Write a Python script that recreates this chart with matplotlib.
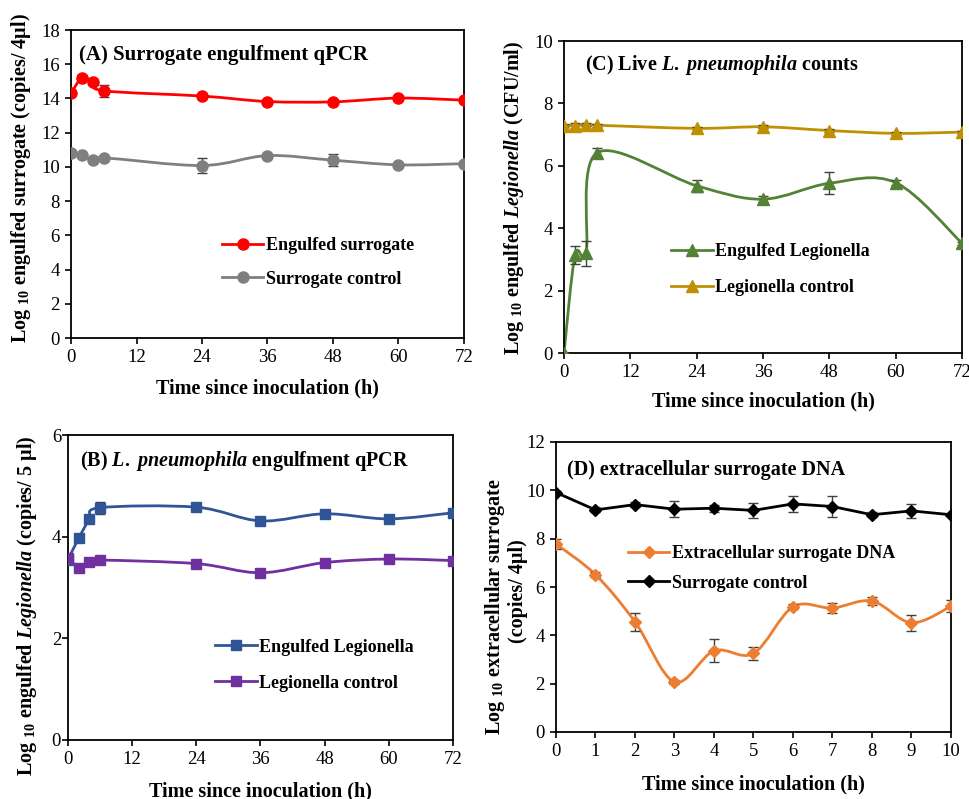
import numpy as np
import matplotlib
matplotlib.use("Agg")
import matplotlib.pyplot as plt
from matplotlib.path import Path
from matplotlib.patches import PathPatch
from matplotlib.lines import Line2D

plt.rcParams["font.family"] = ["Liberation Serif", "DejaVu Serif"]
plt.rcParams["mathtext.fontset"] = "custom"
plt.rcParams["mathtext.rm"] = "Liberation Serif:weight=bold"
plt.rcParams["mathtext.bf"] = "Liberation Serif:weight=bold"
plt.rcParams["mathtext.it"] = "Liberation Serif:style=italic:weight=bold"

# ---- data ----
hours = [0, 2, 4, 6, 24, 36, 48, 60, 72]
hours_d = [0, 1, 2, 3, 4, 5, 6, 7, 8, 9, 10]

# (A) surrogate engulfment qPCR
engulfed_surrogate = [14.3, 15.2, 14.98, 14.45, 14.14, 13.82, 13.8, 14.02, 13.9]
engulfed_surrogate_err = [0.1, 0.15, 0.1, 0.35, 0.1, 0.1, 0.1, 0.1, 0.1]
surrogate_ctrl_a = [10.84, 10.72, 10.39, 10.53, 10.08, 10.66, 10.39, 10.12, 10.19]
surrogate_ctrl_a_err = [0.1, 0.1, 0.1, 0.1, 0.45, 0.1, 0.35, 0.1, 0.1]

# (B) L. pneumophila engulfment qPCR
engulfed_leg_b = [3.55, 3.97, 4.34, 4.57, 4.58, 4.31, 4.45, 4.35, 4.47]
engulfed_leg_b_err = [0.03, 0.05, 0.05, 0.12, 0.05, 0.05, 0.05, 0.05, 0.05]
leg_ctrl_b = [3.59, 3.39, 3.51, 3.54, 3.47, 3.29, 3.49, 3.56, 3.53]
leg_ctrl_b_err = [0.03] * 9

# (C) live L. pneumophila counts
engulfed_leg_c = [0.0, 3.14, 3.2, 6.42, 5.36, 4.93, 5.44, 5.46, 3.52]
engulfed_leg_c_err = [0.0, 0.28, 0.4, 0.15, 0.2, 0.1, 0.35, 0.08, 0.05]
leg_ctrl_c = [7.29, 7.29, 7.31, 7.3, 7.2, 7.25, 7.13, 7.04, 7.08]
leg_ctrl_c_err = [0.05, 0.08, 0.05, 0.05, 0.05, 0.05, 0.05, 0.05, 0.05]

# (D) extracellular surrogate DNA
extracellular = [7.78, 6.51, 4.56, 2.07, 3.36, 3.25, 5.18, 5.13, 5.42, 4.52, 5.2]
extracellular_err = [0.2, 0.1, 0.38, 0.1, 0.47, 0.27, 0.1, 0.2, 0.15, 0.33, 0.25]
surrogate_ctrl_d = [9.91, 9.19, 9.41, 9.22, 9.26, 9.17, 9.44, 9.33, 8.99, 9.15, 8.99]
surrogate_ctrl_d_err = [0.05, 0.1, 0.1, 0.32, 0.15, 0.3, 0.33, 0.45, 0.1, 0.3, 0.05]

ERR_COLOR = "#404040"
LABEL_SIZE = 14.5
TICK_SIZE = 13.5
TITLE_SIZE = 14.5


def smooth_line(ax, x, y, color, lw=2):
    # Excel style smoothed line: Catmull-Rom bezier built in display space
    disp = ax.transData.transform(np.column_stack([x, y]))
    n = len(disp)
    verts = [disp[0]]
    codes = [Path.MOVETO]
    for i in range(n - 1):
        p0 = disp[i - 1] if i > 0 else disp[i]
        p1 = disp[i]
        p2 = disp[i + 1]
        p3 = disp[i + 2] if i + 2 < n else disp[i + 1]
        c1 = p1 + (p2 - p0) / 6.0
        c2 = p2 - (p3 - p1) / 6.0
        verts += [c1, c2, p2]
        codes += [Path.CURVE4] * 3
    verts = ax.transData.inverted().transform(np.array(verts))
    ax.add_patch(PathPatch(Path(verts, codes), fill=False, edgecolor=color,
                           lw=lw, zorder=2, capstyle="round", joinstyle="round"))


def series(ax, x, y, err, color, marker, ms, label, smooth=True):
    if smooth:
        smooth_line(ax, x, y, color)
    else:
        ax.plot(x, y, color=color, lw=2, zorder=2)
    ax.errorbar(x, y, yerr=err, fmt="none", ecolor=ERR_COLOR, elinewidth=1,
                capsize=3.5, capthick=1, zorder=3)
    ax.plot(x, y, ls="none", marker=marker, ms=ms, color=color,
            mec=color, zorder=4)
    return Line2D([], [], color=color, lw=2, marker=marker, ms=ms, label=label)


def style(ax, xticks, yticks, xlim, ylim):
    ax.set_xlim(*xlim)
    ax.set_ylim(*ylim)
    ax.set_xticks(xticks)
    ax.set_yticks(yticks)
    for s in ax.spines.values():
        s.set_linewidth(1.3)
    ax.tick_params(direction="out", length=4, width=1.2, labelsize=TICK_SIZE,
                   pad=4)


def legend(ax, handles, x, y, spacing=0.85):
    ax.legend(handles=handles, loc="center left", bbox_to_anchor=(x, y),
              frameon=False, borderpad=0, borderaxespad=0, handlelength=2.3,
              handletextpad=0.15, labelspacing=spacing,
              prop={"weight": "bold", "size": 13})


fig = plt.figure(figsize=(9.7, 7.99), dpi=100)
W, H = 970, 799


def make_axes(left, top, right, bottom):
    return fig.add_axes([left / W, 1 - bottom / H, (right - left) / W,
                         (bottom - top) / H])


axA = make_axes(71, 30, 464, 338)
axC = make_axes(564, 41, 962, 353)
axB = make_axes(68, 435, 453, 740)
axD = make_axes(556, 442, 951, 732)

hour_ticks = [0, 12, 24, 36, 48, 60, 72]

# ---- (A) ----
style(axA, hour_ticks, range(0, 19, 2), (0, 72), (0, 18))
h1 = series(axA, hours, engulfed_surrogate, engulfed_surrogate_err,
            "#FF0000", "o", 8, "Engulfed surrogate")
h2 = series(axA, hours, surrogate_ctrl_a, surrogate_ctrl_a_err,
            "#7F7F7F", "o", 8, "Surrogate control")
legend(axA, [h1, h2], 0.384, 0.245, spacing=0.9)
axA.text(0.02, 0.92, "(A) Surrogate engulfment qPCR", transform=axA.transAxes,
         fontsize=15, fontweight="bold", va="center")
axA.set_xlabel("Time since inoculation (h)", fontsize=LABEL_SIZE,
               fontweight="bold")
axA.set_ylabel("Log $_{10}$ engulfed surrogate (copies/ 4µl)",
               fontsize=LABEL_SIZE, fontweight="bold")
axA.xaxis.set_label_coords(0.5, -0.133)
axA.yaxis.set_label_coords(-0.096, 0.52)

# ---- (C) ----
style(axC, hour_ticks, range(0, 11, 2), (0, 72), (0, 10))
h1 = series(axC, hours, engulfed_leg_c, engulfed_leg_c_err,
            "#548235", "^", 8, "Engulfed Legionella")
h2 = series(axC, hours, leg_ctrl_c, leg_ctrl_c_err,
            "#BF9000", "^", 8, "Legionella control")
legend(axC, [h1, h2], 0.269, 0.267, spacing=1.05)
axC.text(0.053, 0.923, r"(C) Live $\mathit{L.}$ $\mathit{pneumophila}$ counts",
         transform=axC.transAxes, fontsize=TITLE_SIZE, fontweight="bold",
         va="center")
axC.set_xlabel("Time since inoculation (h)", fontsize=LABEL_SIZE,
               fontweight="bold")
axC.set_ylabel(r"Log $_{10}$ engulfed $\mathit{Legionella}$ (CFU/ml)",
               fontsize=LABEL_SIZE, fontweight="bold")
axC.xaxis.set_label_coords(0.5, -0.122)
axC.yaxis.set_label_coords(-0.095, 0.497)

# ---- (B) ----
style(axB, hour_ticks, range(0, 7, 2), (0, 72), (0, 6))
axB.tick_params(axis="y", pad=1)
h1 = series(axB, hours, engulfed_leg_b, engulfed_leg_b_err,
            "#2F5597", "s", 6.5, "Engulfed Legionella")
h2 = series(axB, hours, leg_ctrl_b, leg_ctrl_b_err,
            "#7030A0", "s", 6.5, "Legionella control")
legend(axB, [h1, h2], 0.382, 0.245, spacing=1.05)
axB.text(0.031, 0.915, r"(B) $\mathit{L.}$ $\mathit{pneumophila}$ engulfment qPCR",
         transform=axB.transAxes, fontsize=TITLE_SIZE, fontweight="bold",
         va="center")
axB.set_xlabel("Time since inoculation (h)", fontsize=LABEL_SIZE,
               fontweight="bold")
axB.set_ylabel(r"Log $_{10}$ engulfed $\mathit{Legionella}$ (copies/ 5 µl)",
               fontsize=LABEL_SIZE, fontweight="bold")
axB.xaxis.set_label_coords(0.5, -0.135)
axB.yaxis.set_label_coords(-0.075, 0.44)

# ---- (D) ----
style(axD, hours_d, range(0, 13, 2), (0, 10), (0, 12))
h1 = series(axD, hours_d, extracellular, extracellular_err,
            "#ED7D31", "D", 6.5, "Extracellular surrogate DNA")
h2 = series(axD, hours_d, surrogate_ctrl_d, surrogate_ctrl_d_err,
            "#000000", "D", 6.5, "Surrogate control", smooth=False)
legend(axD, [h1, h2], 0.182, 0.564, spacing=0.7)
axD.text(0.028, 0.903, "(D) extracellular surrogate DNA",
         transform=axD.transAxes, fontsize=TITLE_SIZE, fontweight="bold",
         va="center")
axD.set_xlabel("Time since inoculation (h)", fontsize=LABEL_SIZE,
               fontweight="bold")
axD.set_ylabel("Log $_{10}$ extracellular surrogate",
               fontsize=LABEL_SIZE, fontweight="bold")
axD.text(-0.097, 0.486, "(copies/ 4µl)", transform=axD.transAxes,
         rotation=90, ha="center", va="center", fontsize=LABEL_SIZE,
         fontweight="bold")
axD.xaxis.set_label_coords(0.5, -0.145)
axD.yaxis.set_label_coords(-0.124, 0.434)

fig.savefig("out.png", dpi=100)
